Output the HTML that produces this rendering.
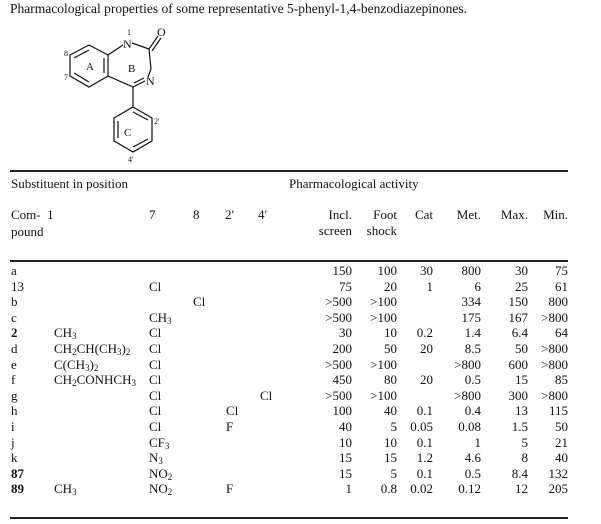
<!DOCTYPE html>
<html><head><meta charset="utf-8"><style>
body{margin:0;width:601px;height:524px;background:#fff;position:relative;overflow:hidden;font-family:"Liberation Serif",serif;font-size:13px;color:#111}
.t{position:absolute;line-height:16px;white-space:nowrap}
.r{position:absolute;line-height:16px;white-space:nowrap;text-align:right;width:60px}
.hr{position:absolute;left:10px;width:558px;height:1.5px;background:#222}
sub{font-size:9px;vertical-align:-2px;line-height:0}
b{font-weight:bold}
</style></head><body>
<div class="t" style="left:10px;top:1px;font-size:13.5px">Pharmacological properties of some representative 5-phenyl-1,4-benzodiazepinones.</div>
<svg style="position:absolute;left:0;top:0" width="200" height="170" font-family="Liberation Serif" fill="#111">
<g stroke="#111" stroke-width="1.2" fill="none">
<polygon points="70,55 89,45 108,55 108,76 89,87 70,76"/>
<line x1="74" y1="58" x2="89" y2="50"/><line x1="104" y1="58" x2="104" y2="73"/><line x1="74" y1="73" x2="89" y2="82"/>
<line x1="108" y1="55" x2="123" y2="45"/><line x1="132" y1="43" x2="149" y2="49"/>
<line x1="149" y1="49" x2="158" y2="36"/><line x1="152" y1="51" x2="161" y2="38"/>
<line x1="149" y1="49" x2="151" y2="69"/><line x1="151" y1="69" x2="148" y2="77"/>
<line x1="108" y1="76" x2="133" y2="87"/><line x1="133" y1="87" x2="145" y2="81"/><line x1="134" y1="83" x2="144" y2="78"/>
<line x1="133" y1="87" x2="133" y2="107"/>
<polygon points="133,107 152,118 152,141 133,152 114,141 114,118"/>
<line x1="118" y1="121" x2="118" y2="138"/><line x1="133" y1="112" x2="148" y2="120"/><line x1="133" y1="147" x2="148" y2="139"/>
</g>
<text x="123" y="48" font-size="12">N</text><text x="127" y="35" font-size="8">1</text>
<text x="157" y="36" font-size="12">O</text><text x="146" y="85" font-size="12">N</text>
<text x="64" y="56" font-size="8">8</text><text x="64" y="80" font-size="8">7</text>
<text x="86" y="70" font-size="11">A</text><text x="128" y="72" font-size="11">B</text><text x="124" y="136" font-size="11">C</text>
<text x="154" y="124" font-size="8">2'</text><text x="128" y="162" font-size="8">4'</text>
</svg>
<div class="hr" style="top:170px"></div>
<div class="t" style="left:11px;top:176px">Substituent in position</div>
<div class="t" style="left:289px;top:176px">Pharmacological activity</div>
<div class="t" style="left:11px;top:207px">Com-&nbsp; 1</div>
<div class="t" style="left:11px;top:224px">pound</div>
<div class="t" style="left:149px;top:207px">7</div><div class="t" style="left:193px;top:207px">8</div>
<div class="t" style="left:225px;top:207px">2′</div><div class="t" style="left:258px;top:207px">4′</div>
<div class="r" style="left:292px;top:207px">Incl.<br>screen</div>
<div class="r" style="left:337px;top:207px">Foot<br>shock</div>
<div class="r" style="left:373px;top:207px">Cat</div>
<div class="r" style="left:421px;top:207px">Met.</div>
<div class="r" style="left:468px;top:207px">Max.</div>
<div class="r" style="left:508px;top:207px">Min.</div>
<div class="hr" style="top:260px"></div>
<div id="rows"></div>
<div class="hr" style="top:517px"></div>
<script>
var R=[["a","","","","","","150","100","30","800","30","75"],
["13","","Cl","","","","75","20","1","6","25","61"],
["b","","","Cl","","","&gt;500","&gt;100","","334","150","800"],
["c","","CH<sub>3</sub>","","","","&gt;500","&gt;100","","175","167","&gt;800"],
["<b>2</b>","CH<sub>3</sub>","Cl","","","","30","10","0.2","1.4","6.4","64"],
["d","CH<sub>2</sub>CH(CH<sub>3</sub>)<sub>2</sub>","Cl","","","","200","50","20","8.5","50","&gt;800"],
["e","C(CH<sub>3</sub>)<sub>2</sub>","Cl","","","","&gt;500","&gt;100","","&gt;800","600","&gt;800"],
["f","CH<sub>2</sub>CONHCH<sub>3</sub>","Cl","","","","450","80","20","0.5","15","85"],
["g","","Cl","","","Cl","&gt;500","&gt;100","","&gt;800","300","&gt;800"],
["h","","Cl","","Cl","","100","40","0.1","0.4","13","115"],
["i","","Cl","","F","","40","5","0.05","0.08","1.5","50"],
["j","","CF<sub>3</sub>","","","","10","10","0.1","1","5","21"],
["k","","N<sub>3</sub>","","","","15","15","1.2","4.6","8","40"],
["<b>87</b>","","NO<sub>2</sub>","","","","15","5","0.1","0.5","8.4","132"],
["<b>89</b>","CH<sub>3</sub>","NO<sub>2</sub>","","F","","1","0.8","0.02","0.12","12","205"]];
var L=[11,54,149,193,226,260],RE=[352,397,433,481,528,568],h="";
R.forEach(function(r,i){var y=263+i*15.6;
for(var c=0;c<6;c++)if(r[c])h+='<div class="t" style="left:'+L[c]+'px;top:'+y+'px">'+r[c]+'</div>';
for(var c=0;c<6;c++)if(r[6+c])h+='<div class="r" style="left:'+(RE[c]-60)+'px;top:'+y+'px">'+r[6+c]+'</div>';});
document.getElementById("rows").innerHTML=h;
</script>
</body></html>
